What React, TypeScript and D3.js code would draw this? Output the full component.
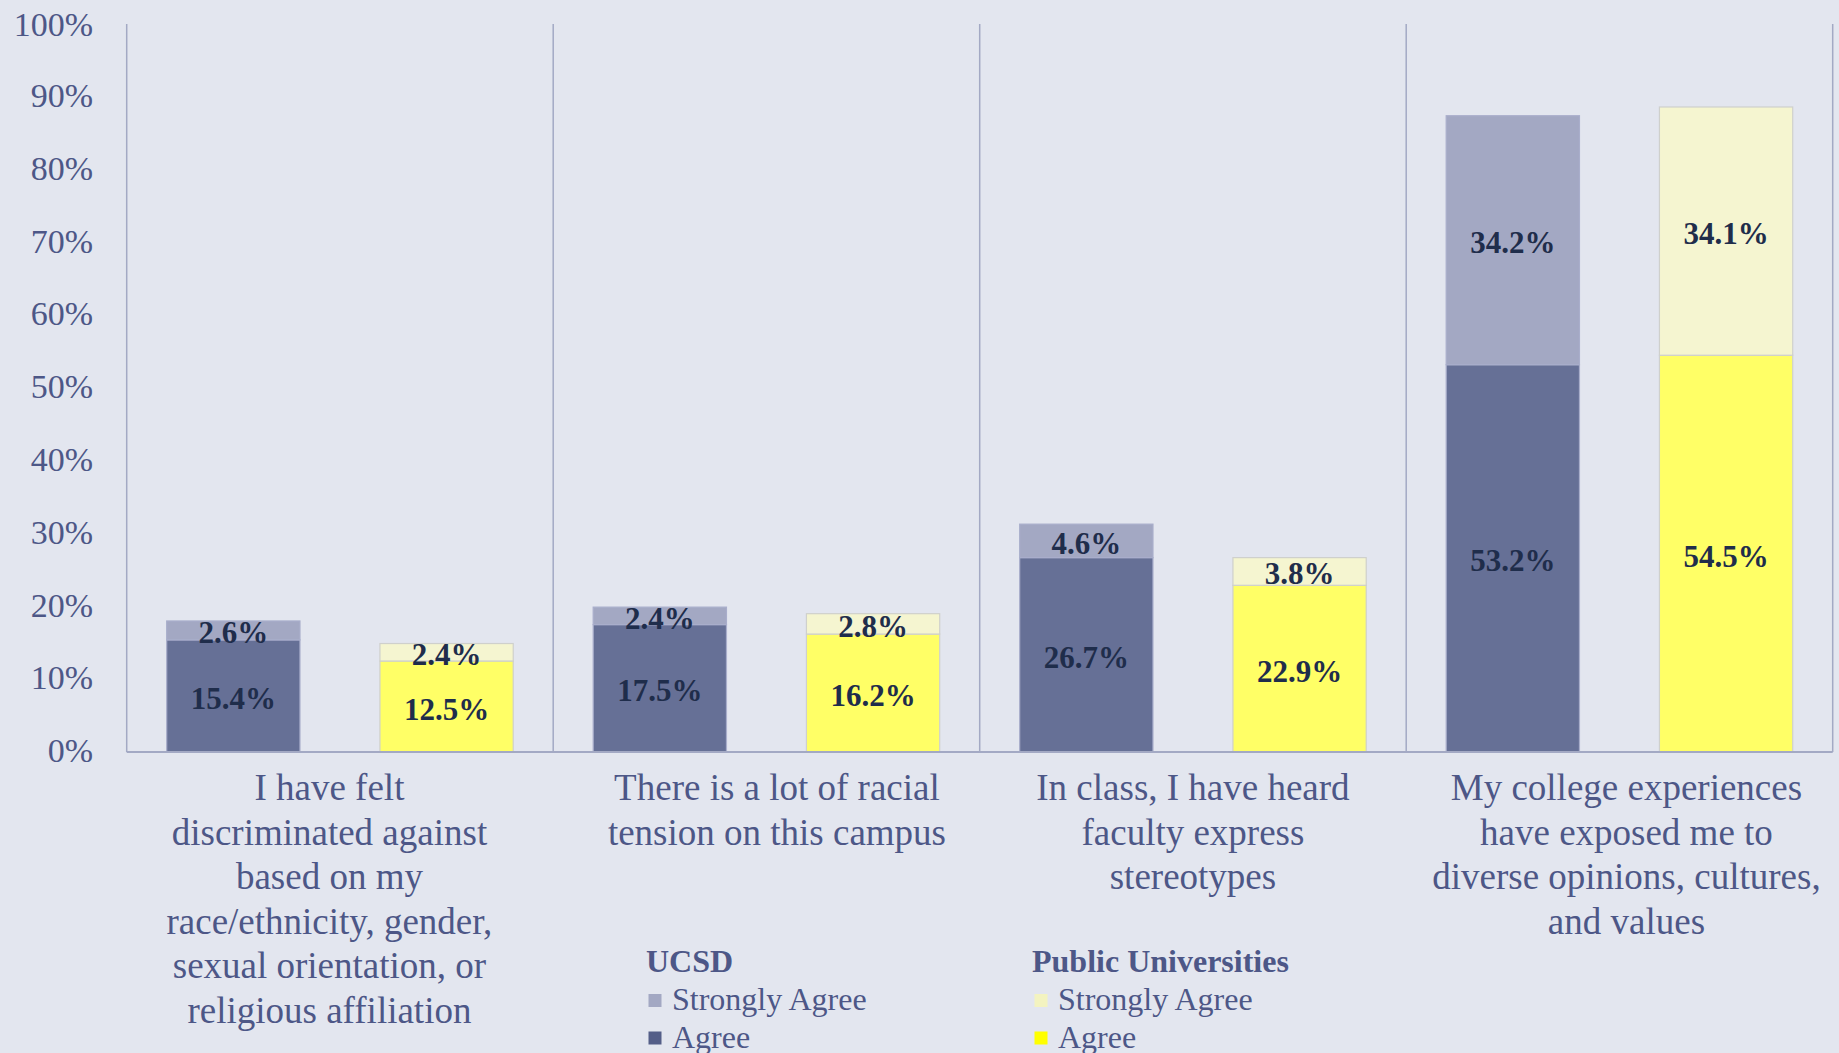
import React, { useEffect } from "react";
import * as d3 from "d3";

const categories: string[][] = [
  ["I have felt", "discriminated against", "based on my", "race/ethnicity, gender,", "sexual orientation, or", "religious affiliation"],
  ["There is a lot of racial", "tension on this campus"],
  ["In class, I have heard", "faculty express", "stereotypes"],
  ["My college experiences", "have exposed me to", "diverse opinions, cultures,", "and values"],
];
const groups = ["UCSD", "Public Universities"];
const ucsdAgree = [15.4, 17.5, 26.7, 53.2];
const ucsdStrongly = [2.6, 2.4, 4.6, 34.2];
const publicAgree = [12.5, 16.2, 22.9, 54.5];
const publicStrongly = [2.4, 2.8, 3.8, 34.1];
const yTicks = [0, 10, 20, 30, 40, 50, 60, 70, 80, 90, 100];

const W = 1839;
const H = 1053;
const BG = "#e3e6ef";
const AXIS = "#a3a9c4";
const TXT = "#4d5787";
const LBL = "#1f2d4b";
const FONT = "'Liberation Serif', 'Times New Roman', serif";
// small horizontal nudges of the wrapped category labels (layout)
const LABEL_NUDGE = [-10.5, 10.5, 0, 7];

const colors = {
  ucsdAgree: "#667096",
  ucsdStrongly: "#a3a8c3",
  publicAgree: "#ffff66",
  publicStrongly: "#f5f5d0",
};
const legendColors = {
  ucsdAgree: "#545e88",
  ucsdStrongly: "#a3a8c3",
  publicAgree: "#ffff00",
  publicStrongly: "#f3f3c0",
};

export default function App() {
  useEffect(() => {
    document.body.style.margin = "0";
    document.body.style.background = BG;
  }, []);

  const catIdx = categories.map((_, i) => String(i));
  const x0 = d3.scaleBand<string>().domain(catIdx).range([126.7, 1832.7]).paddingInner(0).paddingOuter(0);
  const x1 = d3.scaleBand<string>().domain(groups).range([0, x0.bandwidth()]).paddingInner(0.375).paddingOuter(0.1875);
  const y = d3.scaleLinear().domain([0, 100]).range([752, 24]);

  const series = [
    { group: groups[0], agree: ucsdAgree, strongly: ucsdStrongly, ca: colors.ucsdAgree, cs: colors.ucsdStrongly, stroke: "#a9aecb" },
    { group: groups[1], agree: publicAgree, strongly: publicStrongly, ca: colors.publicAgree, cs: colors.publicStrongly, stroke: "#cfd0cc" },
  ];

  const boundaries = catIdx.map((c) => x0(c) as number).concat([x0.range()[1]]);

  return (
    <svg width={W} height={H} style={{ display: "block", position: "absolute", left: 0, top: 0, background: BG }} fontFamily={FONT}>
      <rect x={0} y={0} width={W} height={H} fill={BG} />
      {/* y tick labels */}
      {yTicks.map((t) => (
        <text key={t} x={93} y={y(t)} dy={t === 100 ? "0.35em" : "0.3em"} textAnchor="end" fontSize={34} fill={TXT}>
          {t}%
        </text>
      ))}
      {/* bars */}
      {categories.map((_, ci) => (
        <g key={ci} transform={`translate(${x0(String(ci))},0)`}>
          {series.map((s) => {
            const bx = x1(s.group) as number;
            const bw = x1.bandwidth();
            const a = s.agree[ci];
            const st = s.strongly[ci];
            return (
              <g key={s.group}>
                <rect x={bx} y={y(a)} width={bw} height={y(0) - y(a)} fill={s.ca} stroke={s.stroke} strokeWidth={1.2} />
                <rect x={bx} y={y(a + st)} width={bw} height={y(a) - y(a + st)} fill={s.cs} stroke={s.stroke} strokeWidth={1.2} />
                <text x={bx + bw / 2} y={y(a / 2)} dy="0.42em" textAnchor="middle" fontSize={31} fontWeight="bold" fill={LBL}>
                  {a.toFixed(1)}%
                </text>
                <text x={bx + bw / 2} y={y(a + st / 2)} dy="0.42em" textAnchor="middle" fontSize={31} fontWeight="bold" fill={LBL}>
                  {st.toFixed(1)}%
                </text>
              </g>
            );
          })}
        </g>
      ))}
      {/* vertical separators */}
      {boundaries.map((bx, i) => (
        <line key={i} x1={bx} x2={bx} y1={y(100)} y2={y(0)} stroke={AXIS} strokeWidth={1.5} />
      ))}
      {/* x axis */}
      <line x1={x0.range()[0]} x2={x0.range()[1]} y1={y(0)} y2={y(0)} stroke={AXIS} strokeWidth={2} />
      {/* category labels */}
      {categories.map((lines, ci) => (
        <text key={ci} textAnchor="middle" fontSize={37} fill={TXT}>
          {lines.map((ln, li) => (
            <tspan key={li} x={(x0(String(ci)) as number) + x0.bandwidth() / 2 + LABEL_NUDGE[ci]} y={800 + li * 44.6}>
              {ln}
            </tspan>
          ))}
        </text>
      ))}
      {/* legend */}
      {[
        { x: 646, title: groups[0], items: [["Strongly Agree", legendColors.ucsdStrongly], ["Agree", legendColors.ucsdAgree]] },
        { x: 1032, title: groups[1], items: [["Strongly Agree", legendColors.publicStrongly], ["Agree", legendColors.publicAgree]] },
      ].map((lg) => (
        <g key={lg.title}>
          <text x={lg.x} y={972} fontSize={32} fontWeight="bold" fill={TXT}>
            {lg.title}
          </text>
          {lg.items.map(([name, col], i) => (
            <g key={name}>
              <rect x={lg.x + 2.5} y={994 + i * 37.5} width={13} height={13} fill={col} />
              <text x={lg.x + 26} y={1010 + i * 37.5} fontSize={32} fill={TXT}>
                {name}
              </text>
            </g>
          ))}
        </g>
      ))}
    </svg>
  );
}
